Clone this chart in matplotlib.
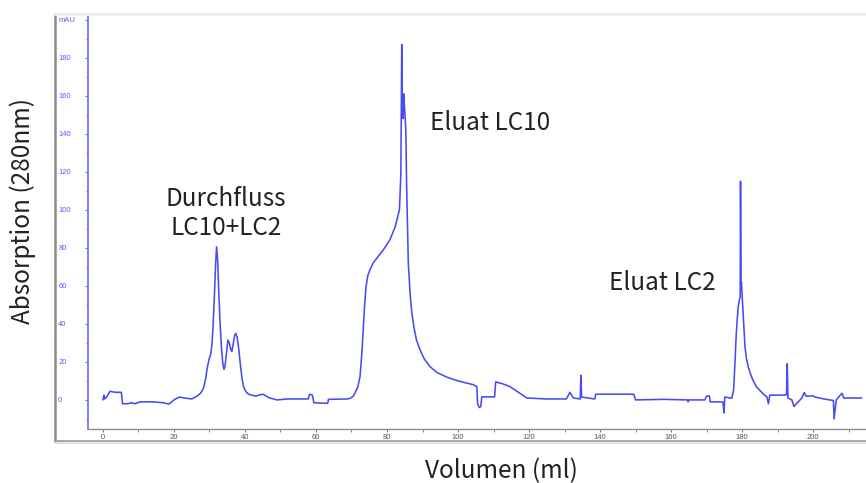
import matplotlib
matplotlib.use("Agg")
import matplotlib.pyplot as plt
from matplotlib.lines import Line2D

# ---- data ----
volume_ml = [
    0.0, 0.3, 0.5, 1.0, 2.0, 3.5, 5.2, 5.5, 7.0, 8.0, 9.0, 10.5, 14.0, 17.0, 18.6,
    20.0, 21.5, 23.0, 25.0, 26.5, 27.5, 28.3, 28.9, 29.4, 29.9, 30.3, 30.7, 31.0,
    31.4, 31.7, 32.0, 32.3, 32.6, 33.0, 33.4, 33.8, 34.1, 34.4, 34.8, 35.2, 35.6,
    36.0, 36.3, 36.7, 37.1, 37.4, 37.8, 38.3, 38.8, 39.2, 39.6, 40.2, 41.0,
    43.0, 45.0, 47.0, 49.0, 52.0, 57.8, 58.2, 59.0, 59.4, 63.3, 63.5,
    69.0, 69.8, 70.5, 71.0, 71.8, 72.4, 72.9, 73.3, 73.7, 74.1, 74.6, 75.2, 76.1,
    77.5, 79.0, 80.8, 82.3, 83.5, 83.9, 84.05,
    84.15, 84.3, 84.5, 84.7, 84.9, 85.3, 85.5, 85.8, 86.0, 86.5, 87.0, 87.6, 88.3,
    89.3, 90.5, 92.1, 94.0, 96.8, 100.0, 104.3, 105.3, 105.5, 106.0, 106.4, 106.7,
    109.0, 110.3, 110.6, 112.5, 114.6, 117.0, 119.4, 125.0, 130.5, 131.5, 132.5,
    134.4, 134.6, 134.8, 138.5, 138.8, 149.5, 150.0, 158.0, 164.6, 164.8, 165.0,
    169.5, 170.0, 170.8, 171.0, 174.6, 174.9, 175.1, 177.1, 177.6, 178.0, 178.3,
    178.6, 178.9, 179.2, 179.45, 179.55, 179.62, 179.7, 179.8, 180.0, 180.2, 180.5,
    180.8, 181.2, 181.7, 182.3, 183.0, 184.0, 185.0, 186.0, 187.0,
    187.4, 187.8, 192.5, 192.7, 192.9, 194.0, 194.6, 195.4, 196.8, 197.5, 198.0,
    200.0, 200.6, 203.0, 205.7, 205.9, 206.5, 208.1, 208.7, 209.9, 213.7,
]
absorbance_mau = [
    0.0, 2.5, 0.5, 1.5, 4.5, 4.0, 4.0, -2.0, -2.0, -1.5, -2.0, -1.0, -1.0, -1.5, -2.2,
    0.0, 1.5, 1.0, 0.5, 2.0, 3.5, 6.0, 11.0, 17.0, 21.5, 23.5, 29.0, 38.0,
    55.0, 70.0, 80.5, 74.0, 58.0, 40.0, 27.0, 18.5, 16.0, 18.0, 25.0, 31.5, 30.0,
    26.5, 25.5, 29.5, 34.0, 35.0, 33.0, 26.0, 17.0, 11.0, 7.0, 4.5, 3.0,
    2.0, 3.0, 1.0, 0.0, 0.5, 0.5, 3.0, 2.5, -1.5, -1.8, 0.3,
    0.5, 1.0, 2.0, 3.7, 7.0, 12.3, 24.0, 36.8, 50.0, 59.6, 65.5, 68.4, 72.0,
    75.5, 79.0, 84.2, 91.0, 100.0, 119.0, 160.0,
    187.0, 150.0, 148.0, 161.0, 155.0, 142.0, 115.0, 90.0, 72.0, 56.0, 45.6, 38.0, 31.5,
    26.3, 21.5, 17.5, 14.5, 12.0, 10.0, 8.0, 7.0, -2.0, -4.0, -3.5, 1.6,
    1.6, 1.6, 9.5, 8.5, 7.0, 4.0, 1.0, 0.5, 0.5, 4.0, 1.0,
    0.5, 13.0, 1.5, 0.5, 3.0, 3.0, 0.0, 0.3, 0.0, -1.0, 0.0,
    0.0, 2.0, 2.0, -1.0, -1.1, -6.9, 1.5, 0.9, 5.3, 20.0, 33.0,
    42.0, 49.0, 52.5, 54.0, 115.0, 86.0, 58.0, 62.0, 55.0, 47.0, 37.0,
    28.0, 22.0, 17.5, 14.0, 10.5, 7.0, 5.0, 3.0, 1.5,
    -2.0, 2.5, 2.6, 19.0, 1.0, 0.0, -3.5, -1.8, 1.0, 3.9, 2.0,
    2.1, 1.5, 0.5, -0.3, -10.0, 0.0, 3.5, 0.9, 1.0, 1.0,
]

y_ticks = [0, 20, 40, 60, 80, 100, 120, 140, 160, 180, 200]
y_tick_labels = ["0", "20", "40", "60", "80", "100", "120", "140", "160", "180", "mAU"]
x_ticks = [0, 20, 40, 60, 80, 100, 120, 140, 160, 180, 200]
x_tick_labels = ["0", "20", "40", "60", "80", "100", "120", "140", "160", "180", "200"]

peak_labels = ["Durchfluss", "LC10+LC2", "Eluat LC10", "Eluat LC2"]
x_label = "Volumen (ml)"
y_label = "Absorption (280nm)"

# ---- figure ----
W, H = 866, 483
fig = plt.figure(figsize=(W / 100, H / 100), dpi=100)
fig.patch.set_facecolor("white")

def fx(px):
    return px / W

def fy(py):
    return 1 - py / H

ax_left, ax_right, ax_top, ax_bottom = 88, 865, 14, 429
ax = fig.add_axes([fx(ax_left), fy(ax_bottom), fx(ax_right - ax_left), (ax_bottom - ax_top) / H])
ax.set_facecolor("none")

trace_color = "#4a4af5"
axis_blue = "#6c6cff"

ax.plot(volume_ml, absorbance_mau, color=trace_color, lw=1.15,
        solid_joinstyle="round", solid_capstyle="round")

ax.set_xlim(-4.2, 214.6)
ax.set_ylim(-15.3, 203)

for s in ["top", "right"]:
    ax.spines[s].set_visible(False)
ax.spines["left"].set_color(axis_blue)
ax.spines["left"].set_linewidth(1.2)
ax.spines["bottom"].set_color("#8c8c8c")
ax.spines["bottom"].set_linewidth(1.0)

ax.set_yticks(y_ticks)
ax.set_yticklabels(y_tick_labels, fontsize=5.5, color="#5a5aff", family="Liberation Sans")
ax.set_yticks(range(-10, 200, 10), minor=True)
ax.tick_params(axis="y", which="major", length=2.5, width=0.8, color=axis_blue, pad=19)
ax.tick_params(axis="y", which="minor", length=1.5, width=0.6, color=axis_blue)
for lab in ax.get_yticklabels():
    lab.set_horizontalalignment("left")

ax.set_xticks(x_ticks)
ax.set_xticklabels(x_tick_labels, fontsize=5.5, color="#555555", family="Liberation Sans")
ax.set_xticks(range(10, 215, 10), minor=True)
ax.tick_params(axis="x", which="major", length=2.5, width=0.8, color="#777777", pad=1)
ax.tick_params(axis="x", which="minor", length=2.0, width=0.6, color="#777777")

# outer grey frame
fig.add_artist(Line2D([fx(55), fx(55)], [fy(14), fy(441)], color="#8a8a8a", lw=1.8))
fig.add_artist(Line2D([fx(55), fx(866)], [fy(441), fy(441)], color="#9a9a9a", lw=1.2))
fig.add_artist(Line2D([fx(55), fx(866)], [fy(443), fy(443)], color="#e2e2e2", lw=1.5))
fig.add_artist(Line2D([fx(55), fx(866)], [fy(14), fy(14)], color="#ececec", lw=2.0))

font = ["Noto Sans CJK JP", "DejaVu Sans"]
tcol = "#222222"
fs = 17.5

ax.text(34.6, 102.1, peak_labels[0], ha="center", va="baseline", fontsize=fs, family=font, color=tcol)
ax.text(34.6, 86.8, peak_labels[1], ha="center", va="baseline", fontsize=fs, family=font, color=tcol)
ax.text(92.1, 142.1, peak_labels[2], ha="left", va="baseline", fontsize=fs, family=font, color=tcol)
ax.text(142.5, 57.9, peak_labels[3], ha="left", va="baseline", fontsize=fs, family=font, color=tcol)

fig.text(fx(501), fy(471), x_label, ha="center", va="center", fontsize=fs, family=font, color=tcol)
fig.text(fx(23), fy(211), y_label, ha="center", va="center", rotation=90, fontsize=fs, family=font, color=tcol)

fig.savefig("out.png", dpi=100, facecolor="white")
